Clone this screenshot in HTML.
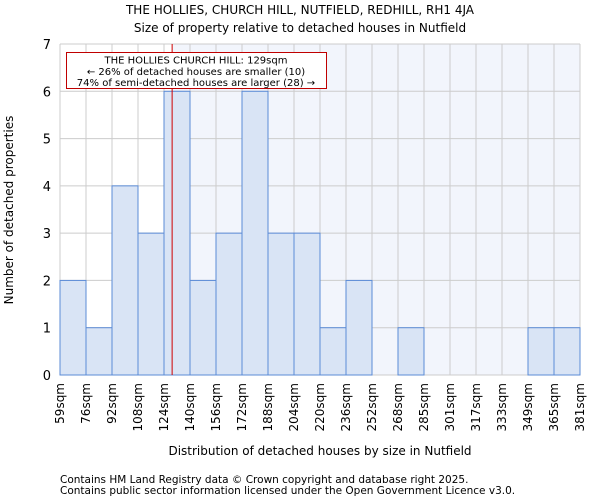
<!DOCTYPE html>
<html><head><meta charset="utf-8"><style>
body{margin:0;background:#fff;font-family:"DejaVu Sans","Liberation Sans",sans-serif;}
svg text{font-family:"DejaVu Sans","Liberation Sans",sans-serif;fill:#000;}
</style></head><body>
<svg id="chart" width="600" height="500" xmlns="http://www.w3.org/2000/svg">
<text x="300" y="14" text-anchor="middle" font-size="12">THE HOLLIES, CHURCH HILL, NUTFIELD, REDHILL, RH1 4JA</text>
<text x="300" y="32" text-anchor="middle" font-size="12">Size of property relative to detached houses in Nutfield</text>
<g id="plot"></g>
<text x="320" y="455" text-anchor="middle" font-size="12">Distribution of detached houses by size in Nutfield</text>
<text transform="translate(13,210) rotate(-90)" text-anchor="middle" font-size="12">Number of detached properties</text>
<text x="60" y="483" font-size="10.5">Contains HM Land Registry data © Crown copyright and database right 2025.</text>
<text x="60" y="494" font-size="10.5">Contains public sector information licensed under the Open Government Licence v3.0.</text>
</svg>
<script>
const binLabels=["59sqm","76sqm","92sqm","108sqm","124sqm","140sqm","156sqm","172sqm","188sqm","204sqm","220sqm","236sqm","252sqm","268sqm","285sqm","301sqm","317sqm","333sqm","349sqm","365sqm","381sqm"];
const binEdges=[59,76,92,108,124,140,156,172,188,204,220,236,252,268,285,301,317,333,349,365,381];
const counts=[2,1,4,3,6,2,3,6,3,3,1,2,0,1,0,0,0,0,1,1];
const yTicks=[0,1,2,3,4,5,6,7];
const subjectSize=129;
const L=60,R=580,T=44,B=375,yMax=7;
const NS="http://www.w3.org/2000/svg";
const g=document.getElementById('plot');
const n=counts.length,bw=(R-L)/n;
function xIdx(i){return L+i*bw;}
function xVal(v){let i=0;while(i<binEdges.length-2&&v>binEdges[i+1])i++;return xIdx(i)+(v-binEdges[i])/(binEdges[i+1]-binEdges[i])*bw;}
function y(v){return B-(v/yMax)*(B-T);}
function mk(t,a){const e=document.createElementNS(NS,t);for(const k in a)e.setAttribute(k,a[k]);g.appendChild(e);return e;}
const sx=xVal(subjectSize);
let e=mk('rect',{x:sx,y:T,width:R-sx,height:B-T,fill:'#f2f5fc'});


for(let i=0;i<=n;i++){e=mk('line',{x1:xIdx(i),x2:xIdx(i),y1:T,y2:B,stroke:'#cccccc','stroke-width':1});

}
yTicks.forEach(t=>{e=mk('line',{x1:L,x2:R,y1:y(t),y2:y(t),stroke:'#cccccc','stroke-width':1});


e=mk('text',{x:L-9,y:y(t)+5,'text-anchor':'end','font-size':13});e.textContent=t;

});
counts.forEach((c,i)=>{if(c<=0)return;e=mk('rect',{x:xIdx(i),y:y(c),width:bw,height:B-y(c),fill:'#d9e4f5',stroke:'#5b8bd6','stroke-width':1});

});
binLabels.forEach((lb,i)=>{const xx=xIdx(i);e=mk('text',{x:0,y:0,'text-anchor':'end','font-size':12,transform:`translate(${xx+4},${B+8}) rotate(-90)`});e.textContent=lb;

});
e=mk('line',{x1:sx,x2:sx,y1:T,y2:B,stroke:'#d00000','stroke-width':1});


e=mk('rect',{x:66.5,y:52.5,width:260,height:36,fill:'#fff',stroke:'#c00000','stroke-width':1});


["THE HOLLIES CHURCH HILL: 129sqm","← 26% of detached houses are smaller (10)","74% of semi-detached houses are larger (28) →"].forEach((s,k)=>{e=mk('text',{x:196,y:63.5+k*11.3,'text-anchor':'middle','font-size':10});e.textContent=s;

});
</script>
</body></html>
